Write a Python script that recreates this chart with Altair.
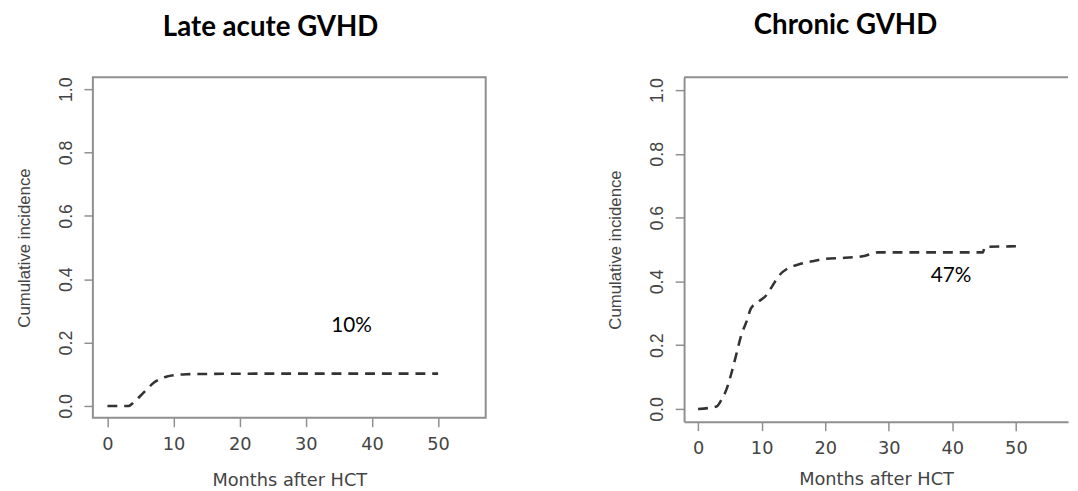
import altair as alt
import pandas as pd

# ---- data ----
late_months = [0, 3.2, 4, 5, 6, 7, 8, 9, 10, 12, 15, 25, 50]
late_ci = [0, 0, 0.012, 0.032, 0.053, 0.073, 0.085, 0.093, 0.097, 0.100, 0.101, 0.102, 0.102]

chronic_months = [0, 2.9, 3.7, 4.5, 5.2, 6.0, 6.8, 7.6, 8.3, 9.4, 10.7, 11.7, 12.7,
                  14.3, 15.8, 17.9, 20.0, 23.1, 25.9, 28.3, 44.8, 45.1, 50]
chronic_ci = [0, 0.008, 0.03, 0.063, 0.109, 0.17, 0.232, 0.273, 0.315, 0.335, 0.356,
              0.386, 0.417, 0.443, 0.453, 0.463, 0.471, 0.474, 0.479, 0.491, 0.491,
              0.508, 0.51]

panel_titles = ["Late acute GVHD", "Chronic GVHD"]
annot_text = ["10%", "47%"]
annot_x = [36.9, 39.8]
annot_y = [0.253, 0.418]

x_ticks = [0, 10, 20, 30, 40, 50]
y_ticks = [0, 0.2, 0.4, 0.6, 0.8, 1.0]
x_title = "Months after HCT"
y_title = "Cumulative incidence"

AX = "#8f8f8f"
TXT = "#444444"


def panel(months, ci, title, a_text, a_x, a_y, w, h, xdom, ydom, title_dx, title_offset,
          boxed, xt_pad):
    df = pd.DataFrame({"m": months, "ci": ci})
    x = alt.X("m:Q", scale=alt.Scale(domain=xdom, nice=False, zero=False),
              axis=alt.Axis(values=x_ticks, format="d", title=x_title, grid=False,
                            domain=not boxed, domainColor=AX, domainWidth=2,
                            tickSize=9, tickWidth=1.5, tickColor=AX,
                            labelFont="DejaVu Sans", labelFontSize=18, labelColor=TXT,
                            labelPadding=9, titleFont="DejaVu Sans", titleFontSize=18,
                            titleFontWeight="normal", titleColor=TXT, titlePadding=xt_pad))
    y = alt.Y("ci:Q", scale=alt.Scale(domain=ydom, nice=False, zero=False),
              axis=alt.Axis(values=y_ticks, format=".1f", title=y_title, grid=False,
                            domain=not boxed, domainColor=AX, domainWidth=2,
                            tickSize=9, tickWidth=1.5, tickColor=AX,
                            labelAngle=-90, labelAlign="center", labelBaseline="bottom",
                            labelFont="Liberation Sans", labelFontSize=18, labelColor=TXT,
                            labelPadding=9, titleFont="Liberation Sans", titleFontSize=17,
                            titleFontWeight="normal", titleColor=TXT, titlePadding=24))
    line = alt.Chart(df).mark_line(color="#333333", strokeWidth=2.6, strokeDash=[10, 7],
                                   interpolate="monotone").encode(x=x, y=y)
    adf = pd.DataFrame({"m": [a_x], "ci": [a_y], "t": [a_text]})
    txt = alt.Chart(adf).mark_text(font="Lato", fontSize=21, color="black").encode(
        x="m:Q", y="ci:Q", text="t:N")
    layers = [line, txt]
    if not boxed:
        top = alt.Chart(pd.DataFrame({"k": [0]})).mark_rule(color=AX, strokeWidth=2).encode(
            x=alt.value(0), x2=alt.value(w), y=alt.value(0))
        layers.append(top)
    ch = alt.layer(*layers).properties(
        width=w, height=h,
        title=alt.Title(title, font="Lato", fontSize=28, fontWeight="bold", color="black",
                        anchor="middle", dx=title_dx, offset=title_offset),
    )
    if not boxed:
        ch = ch.properties(view=alt.ViewBackground(stroke="transparent"))
    return ch


left = panel(late_months, late_ci, panel_titles[0], annot_text[0], annot_x[0], annot_y[0],
             398, 345, [-2.2, 57.2], [-0.0375, 1.0375], -19, 35, True, 19)
right = panel(chronic_months, chronic_ci, panel_titles[1], annot_text[1], annot_x[1], annot_y[1],
              389, 349, [-2.2, 58.2], [-0.04, 1.04], -31, 37, False, 14)

chart = alt.hconcat(left, right, spacing=121).properties(
    padding={"left": 7, "top": 0, "right": 0, "bottom": 0}
).configure_view(stroke=AX, strokeWidth=2)

chart.save("out.html", embed_options={"renderer": "svg", "actions": False})
